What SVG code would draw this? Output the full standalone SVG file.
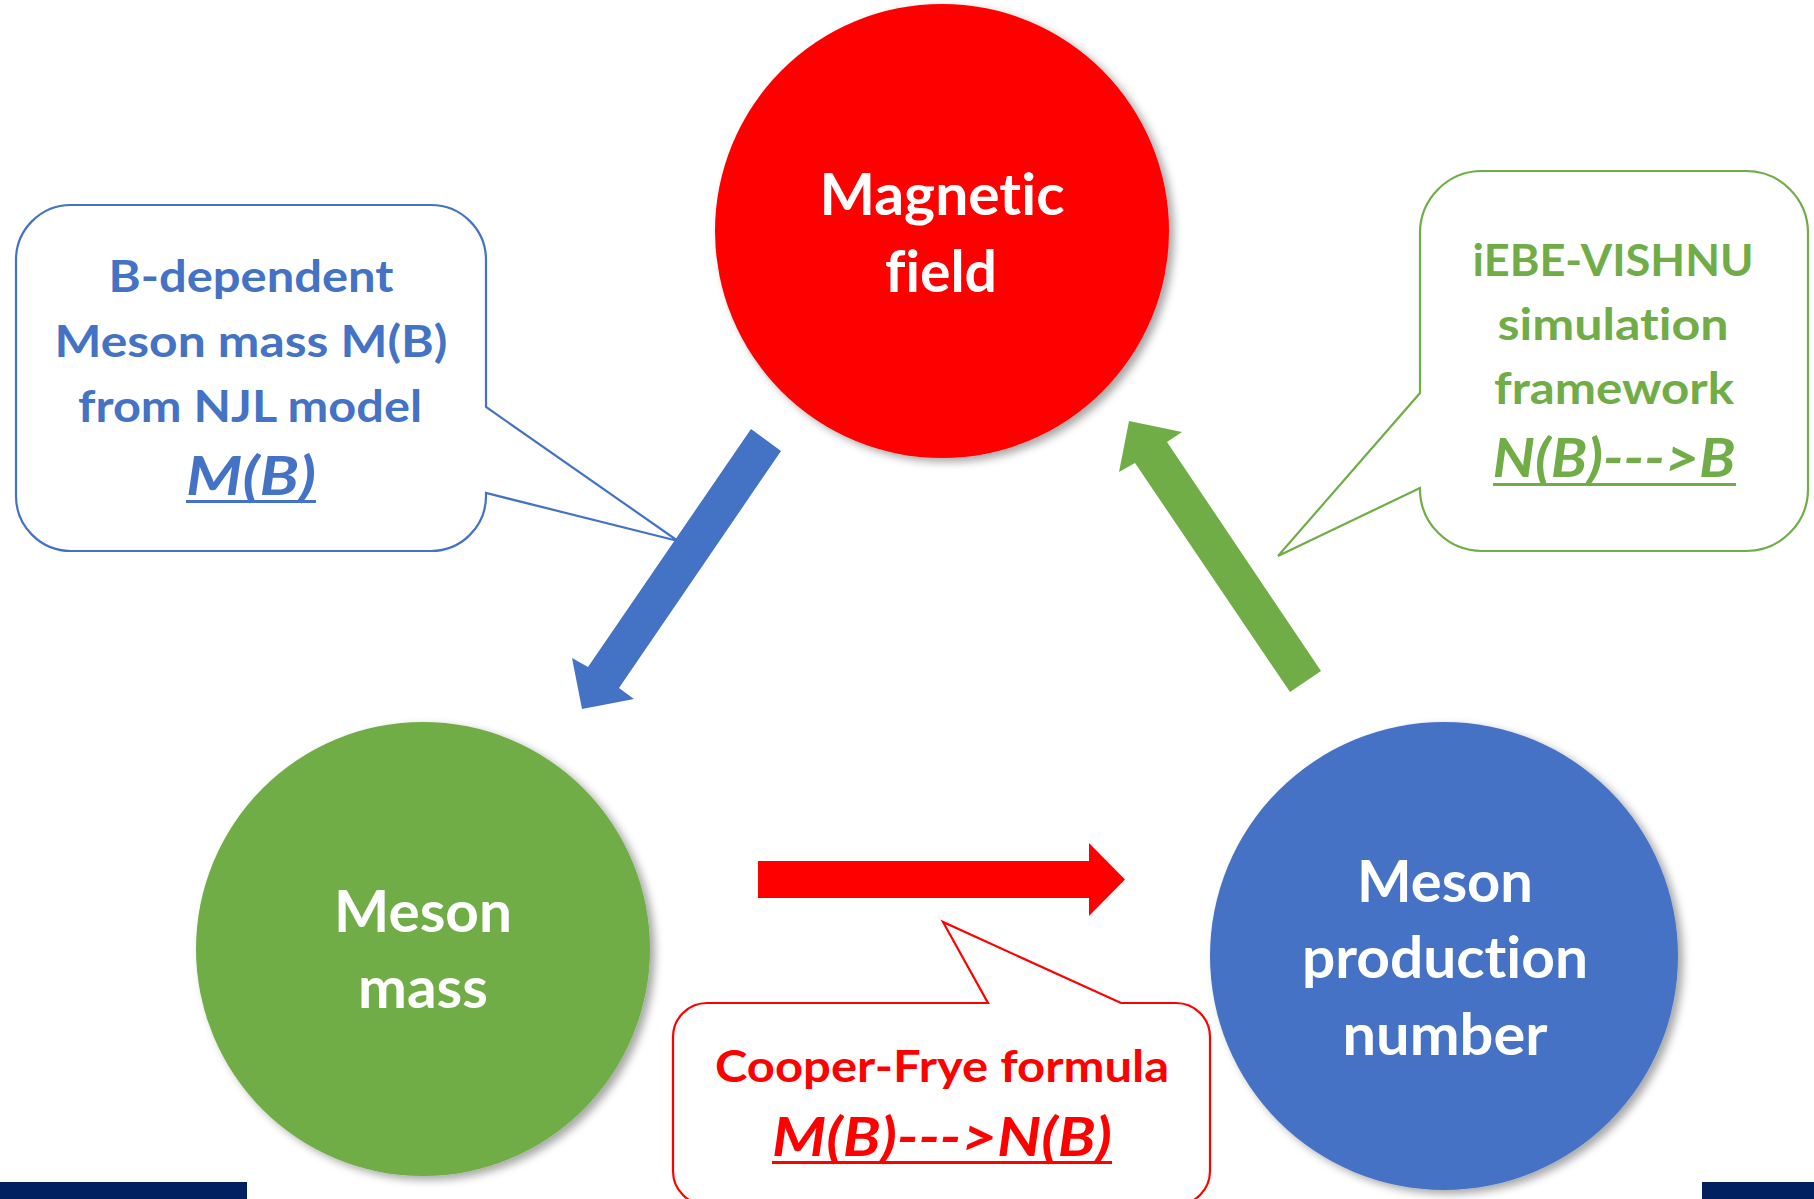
<svg xmlns="http://www.w3.org/2000/svg" width="1814" height="1199" viewBox="0 0 1814 1199">
<defs>
<filter id="shadow" x="-20%" y="-20%" width="140%" height="140%">
<feDropShadow dx="5" dy="4" stdDeviation="4" flood-color="#000" flood-opacity="0.35"/>
</filter>
<style>
text{font-variant-ligatures:none;font-feature-settings:"liga" 0,"clig" 0}
.node text{font-family:Lato,"Open Sans","Liberation Sans",sans-serif;font-weight:bold;fill:#fff;font-size:58px;text-anchor:middle}
.callout text{font-family:Lato,"Open Sans","Liberation Sans",sans-serif;font-weight:bold;font-size:43px;text-anchor:middle}
.callout .f{font-size:53px;font-style:italic}
.callout path{fill:#fff;stroke-width:2.2}
</style>
</defs>
<rect width="1814" height="1199" fill="#fff"/>

<g id="callout-njl" class="callout">
<path d="M71,205 H431 A55 55 0 0 1 486,260 V407 L678,541 L486,493 V496 A55 55 0 0 1 431,551 H71 A55 55 0 0 1 16,496 V260 A55 55 0 0 1 71,205 Z" stroke="#4472C4"/>
<g fill="#4472C4">
<text x="251" y="292" textLength="285" lengthAdjust="spacingAndGlyphs">B-dependent</text>
<text x="251" y="357" textLength="393" lengthAdjust="spacingAndGlyphs">Meson mass M(B)</text>
<text x="250" y="422" textLength="344" lengthAdjust="spacingAndGlyphs">from NJL model</text>
<text class="f" x="251" y="495" textLength="130" lengthAdjust="spacingAndGlyphs">M(B)</text>
<rect x="186" y="500" width="130" height="3"/>
</g>
</g>

<g id="callout-vishnu" class="callout">
<path d="M1482,171 H1746 A62 62 0 0 1 1808,233 V489 A62 62 0 0 1 1746,551 H1482 A62 62 0 0 1 1420,489 V488 L1278,556 L1420,393 V233 A62 62 0 0 1 1482,171 Z" stroke="#70AD47"/>
<g fill="#70AD47">
<text x="1613" y="276" textLength="281" lengthAdjust="spacingAndGlyphs">iEBE-VISHNU</text>
<text x="1613" y="340" textLength="231" lengthAdjust="spacingAndGlyphs">simulation</text>
<text x="1614" y="404" textLength="240" lengthAdjust="spacingAndGlyphs">framework</text>
<text class="f" x="1614" y="477" textLength="243" lengthAdjust="spacingAndGlyphs">N(B)---&gt;B</text>
<rect x="1493" y="483" width="243" height="3"/>
</g>
</g>

<g id="callout-cooper" class="callout">
<path d="M707,1003 H988 L943,922 L1121,1003 H1176 A34 34 0 0 1 1210,1037 V1171 A34 34 0 0 1 1176,1205 H707 A34 34 0 0 1 673,1171 V1037 A34 34 0 0 1 707,1003 Z" stroke="#FF0000" stroke-width="2.6"/>
<g fill="#FF0000">
<text x="942" y="1082" textLength="454" lengthAdjust="spacingAndGlyphs">Cooper-Frye formula</text>
<text class="f" x="942" y="1156" textLength="340" lengthAdjust="spacingAndGlyphs">M(B)---&gt;N(B)</text>
<rect x="772" y="1161" width="340" height="3"/>
</g>
</g>

<g id="connectors">
<polygon id="arrow-field-to-mass" fill="#4472C4" points="751,429 781,451 619,688 634,699 582,709 572,658 588,667"/>
<polygon id="arrow-mass-to-number" fill="#FF0000" points="758,861 1089,861 1089,843 1125,879.5 1089,916 1089,898 758,898"/>
<polygon id="arrow-number-to-field" fill="#70AD47" points="1290,692 1321,671 1167,442 1182,432 1129,421 1119,472 1135,463"/>
</g>

<g id="node-magnetic-field" class="node">
<circle cx="942" cy="231" r="227" fill="#FF0000" filter="url(#shadow)"/>
<text x="942" y="215" textLength="245" lengthAdjust="spacingAndGlyphs">Magnetic</text>
<text x="941" y="292" textLength="112" lengthAdjust="spacingAndGlyphs">field</text>
</g>

<g id="node-meson-mass" class="node">
<circle cx="423" cy="949" r="227" fill="#70AD47" filter="url(#shadow)"/>
<text x="423" y="932" textLength="178" lengthAdjust="spacingAndGlyphs">Meson</text>
<text x="423" y="1008" textLength="130" lengthAdjust="spacingAndGlyphs">mass</text>
</g>

<g id="node-meson-production" class="node">
<circle cx="1444" cy="956" r="234" fill="#4472C4" filter="url(#shadow)"/>
<text x="1445" y="902" textLength="176" lengthAdjust="spacingAndGlyphs">Meson</text>
<text x="1445" y="978" textLength="286" lengthAdjust="spacingAndGlyphs">production</text>
<text x="1445" y="1055" textLength="205" lengthAdjust="spacingAndGlyphs">number</text>
</g>

<g id="footer-bars" fill="#002060">
<rect x="0" y="1182" width="247" height="17"/>
<rect x="1702" y="1182" width="112" height="17"/>
</g>
</svg>
